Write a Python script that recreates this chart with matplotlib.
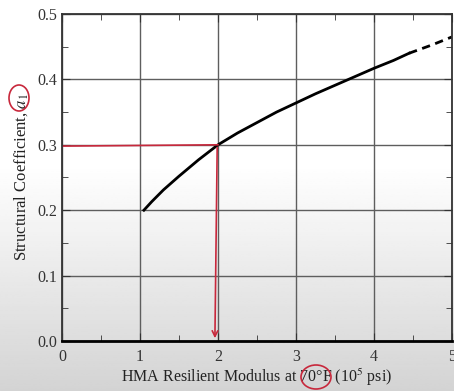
import numpy as np
import matplotlib
matplotlib.use("Agg")
import matplotlib.pyplot as plt
from matplotlib.patches import Ellipse

plt.rcParams['font.family'] = ['Liberation Serif', 'DejaVu Serif']
plt.rcParams['mathtext.fontset'] = 'stix'

# curve (modulus in 10^5 psi, structural coefficient)
modulus_solid = [1.05, 1.15, 1.3, 1.5, 1.75, 2.0, 2.25, 2.5, 2.75, 3.0,
                 3.25, 3.5, 3.75, 4.0, 4.25, 4.45]
coef_solid = [0.200, 0.213, 0.231, 0.252, 0.277, 0.300, 0.318, 0.334, 0.350,
              0.364, 0.378, 0.391, 0.404, 0.417, 0.429, 0.440]
modulus_dashed = [4.45, 4.75, 5.0]
coef_dashed = [0.440, 0.453, 0.465]

# red hand annotation
read_modulus = 2.0
read_coef = 0.30

fig = plt.figure(figsize=(4.54, 3.91), dpi=100)

# greyish photo background
bg = fig.add_axes([0, 0, 1, 1], zorder=-10)
rows = np.linspace(0, 1, 200)
shade = np.where(rows < 0.42, 1.0, 1.0 - (rows - 0.42) / 0.58 * 0.17)
bg.imshow(shade[:, None], aspect='auto', cmap='gray', vmin=0, vmax=1,
          extent=[0, 1, 0, 1])
bg.axis('off')

ax = fig.add_axes([62 / 454, 50 / 391, 390 / 454, 327 / 391])
ax.set_facecolor('none')

ax.plot(modulus_solid, coef_solid, color='black', lw=2)
ax.plot(modulus_dashed, coef_dashed, color='black', lw=2, ls=(0, (3, 2)))

red = '#c8283c'
ax.plot([0, read_modulus], [read_coef - 0.002, read_coef], color=red, lw=1.2)
ax.annotate('', xy=(read_modulus - 0.04, 0.0), xytext=(read_modulus - 0.01, read_coef),
            arrowprops=dict(arrowstyle='->', color=red, lw=1.2))

ax.set_xlim(0, 5)
ax.set_ylim(0, 0.5)
ax.set_xticks([0, 1, 2, 3, 4, 5])
ax.set_yticks([0.0, 0.1, 0.2, 0.3, 0.4, 0.5])
ax.set_xticks(np.arange(0.5, 5, 1), minor=True)
ax.set_yticks(np.arange(0.05, 0.5, 0.1), minor=True)
ax.set_xticklabels(['0', '1', '2', '3', '4', '5'])
ax.set_yticklabels(['0.0', '0.1', '0.2', '0.3', '0.4', '0.5'])
ax.grid(True, which='major', color='#5e5e5e', lw=1)
ax.tick_params(which='both', direction='in', top=True, right=True,
               labelsize=11.5, colors='#333333')
ax.tick_params(axis='x', which='major', pad=6)
ax.tick_params(which='major', length=6)
ax.tick_params(which='minor', length=4)
for s in ax.spines.values():
    s.set_color('#333333')
    s.set_linewidth(1.3)
ax.spines['bottom'].set_linewidth(2)
ax.spines['bottom'].set_color('black')

ax.set_xlabel(r'HMA Resilient Modulus at 70°F (10$^5$ psi)', fontsize=11.5,
              color='#222222', labelpad=1)
ax.set_ylabel(r'Structural Coefficient, $a_1$', fontsize=12,
              color='#222222', labelpad=5)

# red circles drawn on the screenshot
fig.patches.append(Ellipse((19 / 454, 1 - 98 / 391), 20 / 454, 26 / 391,
                           transform=fig.transFigure, fill=False,
                           edgecolor=red, lw=1.2))
fig.patches.append(Ellipse((316 / 454, 1 - 377 / 391), 30 / 454, 24 / 391,
                           transform=fig.transFigure, fill=False,
                           edgecolor=red, lw=1.2))

fig.savefig('out.png', dpi=100)
